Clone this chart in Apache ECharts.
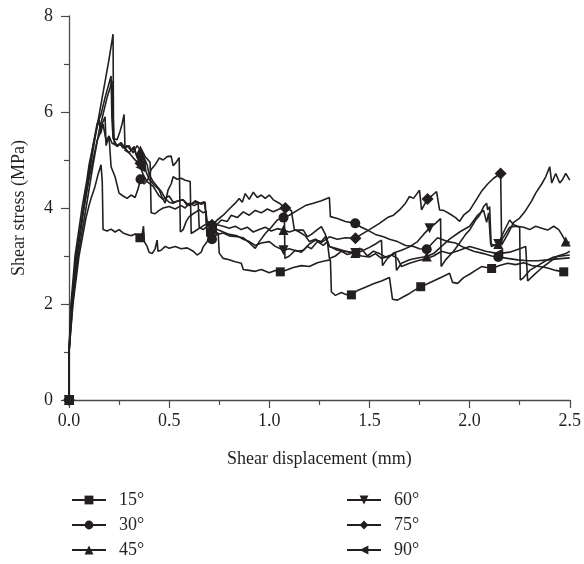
<!DOCTYPE html>
<html>
<head>
<meta charset="utf-8">
<script src="https://cdn.jsdelivr.net/npm/echarts@6/dist/echarts.min.js"></script>
<style>html,body{margin:0;padding:0;background:#fff}#c{width:584px;height:564px}</style>
</head>
<body>
<div id="c"></div>
<script>
// Series names (legend)
const seriesNames = ['15°', '30°', '45°', '60°', '75°', '90°'];
// Axis ticks
const xTicks = [0, 0.5, 1.0, 1.5, 2.0, 2.5];
const yTicks = [0, 2, 4, 6, 8];

// Data: [shear displacement (mm), shear stress (MPa)]
const d15 = [[0,0],[0,1.0],[0.02,2.0],[0.05,3.0],[0.085,3.8],[0.1,4.05],[0.11,4.2],[0.13,4.45],[0.145,4.7],[0.16,4.9],[0.166,4.55],[0.17,3.55],[0.19,3.52],[0.21,3.56],[0.23,3.5],[0.25,3.55],[0.27,3.48],[0.29,3.45],[0.31,3.42],[0.33,3.46],[0.354,3.38],[0.365,3.45],[0.372,3.62],[0.376,3.3],[0.39,3.2],[0.4,3.08],[0.415,3.05],[0.43,3.15],[0.44,3.33],[0.444,3.1],[0.46,3.12],[0.48,3.2],[0.5,3.16],[0.53,3.2],[0.56,3.15],[0.59,3.17],[0.62,3.1],[0.64,3.02],[0.66,3.08],[0.67,3.19],[0.69,3.3],[0.71,3.5],[0.72,3.54],[0.745,3.47],[0.75,3.06],[0.77,2.95],[0.8,2.92],[0.83,2.88],[0.86,2.85],[0.87,2.72],[0.9,2.7],[0.93,2.68],[0.96,2.72],[1.0,2.65],[1.03,2.7],[1.055,2.67],[1.08,2.7],[1.12,2.76],[1.16,2.8],[1.2,2.78],[1.24,2.86],[1.28,2.9],[1.305,2.92],[1.31,2.25],[1.33,2.18],[1.36,2.24],[1.38,2.2],[1.41,2.19],[1.44,2.28],[1.48,2.35],[1.52,2.42],[1.56,2.48],[1.6,2.55],[1.615,2.1],[1.64,2.08],[1.67,2.15],[1.7,2.22],[1.73,2.3],[1.756,2.36],[1.79,2.42],[1.83,2.5],[1.87,2.58],[1.9,2.64],[1.915,2.45],[1.94,2.43],[1.97,2.55],[2.0,2.62],[2.03,2.7],[2.06,2.78],[2.11,2.74],[2.15,2.8],[2.19,2.85],[2.23,2.82],[2.27,2.86],[2.31,2.8],[2.35,2.78],[2.39,2.75],[2.43,2.7],[2.47,2.67],[2.49,2.68]];
const d30 = [[0,0],[0,1.02],[0.012,2.0],[0.035,3.0],[0.07,3.9],[0.1,4.6],[0.12,5.0],[0.14,5.4],[0.155,5.55],[0.165,5.75],[0.18,5.9],[0.185,5.3],[0.2,5.49],[0.21,4.86],[0.23,4.65],[0.25,4.31],[0.27,4.25],[0.29,4.2],[0.31,4.27],[0.33,4.22],[0.345,4.4],[0.357,4.6],[0.375,4.5],[0.395,4.6],[0.41,4.8],[0.43,4.9],[0.45,5.04],[0.47,5.0],[0.49,5.07],[0.51,5.08],[0.52,4.88],[0.535,4.95],[0.55,5.05],[0.556,3.5],[0.57,3.55],[0.585,3.72],[0.6,3.82],[0.62,3.88],[0.65,3.96],[0.67,3.9],[0.685,3.93],[0.688,3.42],[0.714,3.35],[0.74,3.45],[0.77,3.48],[0.8,3.42],[0.84,3.4],[0.87,3.38],[0.9,3.28],[0.93,3.16],[0.95,3.3],[0.98,3.47],[1.01,3.6],[1.04,3.75],[1.071,3.8],[1.1,3.85],[1.14,3.95],[1.18,4.05],[1.22,4.1],[1.26,4.15],[1.3,4.22],[1.305,3.82],[1.34,3.78],[1.38,3.72],[1.429,3.68],[1.46,3.6],[1.49,3.54],[1.53,3.45],[1.57,3.4],[1.6,3.35],[1.64,3.3],[1.68,3.22],[1.72,3.2],[1.75,3.15],[1.786,3.14],[1.81,3.25],[1.84,3.38],[1.86,3.35],[1.89,3.3],[1.93,3.27],[1.97,3.18],[2.02,3.1],[2.07,3.05],[2.11,3.0],[2.143,2.98],[2.19,2.95],[2.24,2.92],[2.29,2.9],[2.34,2.9],[2.39,2.92],[2.44,2.94],[2.5,2.96]];
const d45 = [[0,0],[0,1.0],[0.01,2.0],[0.03,3.0],[0.065,4.0],[0.09,4.6],[0.1,4.9],[0.115,5.2],[0.13,5.5],[0.15,5.85],[0.158,5.55],[0.17,5.75],[0.185,5.4],[0.2,5.5],[0.215,5.35],[0.24,5.3],[0.26,5.36],[0.28,5.25],[0.3,5.3],[0.32,5.15],[0.34,5.3],[0.357,5.2],[0.37,5.1],[0.385,5.05],[0.405,4.95],[0.41,3.9],[0.43,3.88],[0.45,3.95],[0.47,4.0],[0.5,4.03],[0.53,3.98],[0.56,4.05],[0.58,4.0],[0.6,4.1],[0.625,4.05],[0.645,4.1],[0.65,3.6],[0.67,3.55],[0.69,3.62],[0.714,3.6],[0.74,3.65],[0.77,3.62],[0.8,3.58],[0.83,3.62],[0.86,3.55],[0.89,3.6],[0.92,3.5],[0.95,3.55],[0.98,3.6],[1.01,3.52],[1.04,3.57],[1.071,3.54],[1.1,3.5],[1.13,3.54],[1.17,3.54],[1.19,3.4],[1.21,3.45],[1.24,3.55],[1.26,3.61],[1.28,3.45],[1.3,3.2],[1.34,3.15],[1.38,3.1],[1.429,3.06],[1.46,3.0],[1.5,2.98],[1.53,3.05],[1.56,2.95],[1.6,3.0],[1.63,3.06],[1.635,2.7],[1.66,2.85],[1.7,2.92],[1.74,2.96],[1.786,2.99],[1.82,3.05],[1.86,3.2],[1.9,3.35],[1.95,3.5],[2.0,3.62],[2.04,3.85],[2.07,3.95],[2.085,3.7],[2.095,3.9],[2.105,3.25],[2.13,3.22],[2.143,3.25],[2.17,3.5],[2.2,3.75],[2.22,3.65],[2.24,3.62],[2.27,3.6],[2.3,3.55],[2.33,3.62],[2.36,3.58],[2.39,3.54],[2.42,3.62],[2.445,3.55],[2.46,3.45],[2.48,3.3],[2.5,3.28]];
const d60 = [[0,0],[0,0.98],[0.018,2.0],[0.045,3.0],[0.085,4.0],[0.12,4.9],[0.15,5.6],[0.17,5.95],[0.19,6.3],[0.205,6.5],[0.215,6.65],[0.218,5.8],[0.222,5.45],[0.24,5.42],[0.255,5.6],[0.265,5.75],[0.275,5.95],[0.28,5.2],[0.3,5.15],[0.32,5.25],[0.34,5.08],[0.357,5.0],[0.37,5.1],[0.385,4.75],[0.4,4.6],[0.42,4.5],[0.45,4.38],[0.465,4.22],[0.48,4.1],[0.495,4.38],[0.51,4.5],[0.52,4.65],[0.54,4.6],[0.56,4.62],[0.58,4.58],[0.605,4.55],[0.61,3.47],[0.63,3.52],[0.66,3.6],[0.69,3.68],[0.714,3.62],[0.74,3.55],[0.77,3.5],[0.8,3.45],[0.84,3.42],[0.87,3.35],[0.9,3.3],[0.93,3.22],[0.96,3.27],[1.0,3.3],[1.03,3.2],[1.071,3.12],[1.1,3.15],[1.14,3.1],[1.17,3.12],[1.2,3.25],[1.23,3.33],[1.26,3.3],[1.28,3.4],[1.3,3.2],[1.34,3.12],[1.38,3.1],[1.429,3.06],[1.46,3.1],[1.5,3.18],[1.53,3.25],[1.56,3.33],[1.565,2.8],[1.59,2.95],[1.62,3.06],[1.66,3.12],[1.7,3.19],[1.74,3.3],[1.77,3.45],[1.8,3.58],[1.83,3.68],[1.855,3.78],[1.858,2.78],[1.88,2.92],[1.92,3.1],[1.95,3.27],[1.98,3.45],[2.0,3.54],[2.03,3.75],[2.05,3.85],[2.07,4.03],[2.085,4.1],[2.09,3.96],[2.1,4.03],[2.108,3.2],[2.143,3.25],[2.17,3.4],[2.2,3.6],[2.23,3.62],[2.25,3.6],[2.253,2.5],[2.27,2.55],[2.3,2.7],[2.34,2.8],[2.38,2.9],[2.42,2.98],[2.46,3.0],[2.5,3.02]];
const d75 = [[0,0],[0,1.0],[0.015,2.0],[0.04,3.0],[0.075,4.0],[0.11,4.95],[0.14,5.7],[0.17,6.4],[0.2,7.1],[0.22,7.62],[0.222,5.85],[0.226,5.35],[0.24,5.28],[0.255,5.33],[0.27,5.25],[0.29,5.3],[0.31,5.2],[0.325,5.28],[0.34,5.05],[0.357,4.93],[0.375,5.05],[0.39,4.9],[0.4,4.7],[0.42,4.55],[0.44,4.45],[0.46,4.35],[0.48,4.2],[0.5,4.12],[0.52,4.1],[0.545,4.15],[0.57,4.17],[0.59,4.05],[0.61,4.08],[0.63,4.15],[0.655,4.1],[0.675,4.13],[0.69,3.72],[0.714,3.65],[0.74,3.75],[0.77,3.85],[0.8,3.98],[0.83,4.1],[0.85,4.2],[0.865,4.12],[0.88,4.3],[0.9,4.18],[0.92,4.33],[0.94,4.22],[0.96,4.27],[0.98,4.2],[1.0,4.27],[1.02,4.17],[1.05,4.1],[1.08,4.0],[1.11,3.95],[1.125,3.55],[1.15,3.5],[1.18,3.42],[1.2,3.3],[1.23,3.35],[1.26,3.28],[1.3,3.4],[1.34,3.35],[1.38,3.38],[1.43,3.37],[1.46,3.45],[1.5,3.55],[1.55,3.68],[1.59,3.8],[1.62,3.85],[1.65,3.96],[1.68,4.1],[1.7,4.24],[1.72,4.2],[1.75,4.37],[1.76,3.96],[1.79,4.19],[1.81,4.25],[1.835,4.34],[1.85,3.96],[1.87,3.95],[1.9,3.88],[1.93,3.8],[1.95,3.72],[1.97,3.85],[2.0,3.95],[2.03,4.15],[2.06,4.35],[2.09,4.5],[2.12,4.62],[2.155,4.72],[2.16,3.23],[2.19,3.45],[2.22,3.7],[2.25,3.79],[2.28,3.95],[2.31,4.15],[2.33,4.31],[2.36,4.5],[2.38,4.65],[2.4,4.86],[2.41,4.52],[2.43,4.72],[2.45,4.52],[2.465,4.6],[2.48,4.72],[2.5,4.58]];
const d90 = [[0,0],[0,1.0],[0.014,2.0],[0.038,3.0],[0.072,4.0],[0.1,4.8],[0.12,5.3],[0.14,5.75],[0.16,5.95],[0.18,6.3],[0.2,6.6],[0.21,6.75],[0.214,5.9],[0.22,5.45],[0.24,5.3],[0.26,5.35],[0.29,5.2],[0.31,5.1],[0.33,5.0],[0.345,4.95],[0.357,4.85],[0.37,4.7],[0.39,4.55],[0.42,4.45],[0.45,4.25],[0.47,4.18],[0.5,4.25],[0.52,4.12],[0.55,4.15],[0.57,4.17],[0.6,4.05],[0.62,4.1],[0.64,4.12],[0.66,4.08],[0.68,4.12],[0.685,3.7],[0.7,3.62],[0.714,3.55],[0.73,3.62],[0.76,3.75],[0.79,3.72],[0.81,3.85],[0.84,3.8],[0.87,3.92],[0.9,3.85],[0.93,3.95],[0.96,3.9],[0.99,3.98],[1.02,3.92],[1.05,3.98],[1.075,4.0],[1.078,2.95],[1.1,3.0],[1.13,3.12],[1.16,3.08],[1.19,3.2],[1.21,3.15],[1.24,3.3],[1.27,3.22],[1.29,3.3],[1.3,2.95],[1.33,3.0],[1.36,3.1],[1.39,3.03],[1.429,3.08],[1.46,3.15],[1.49,3.0],[1.52,3.1],[1.55,3.05],[1.58,2.98],[1.61,3.02],[1.64,2.95],[1.66,2.78],[1.7,2.85],[1.74,2.9],[1.786,2.95],[1.82,3.0],[1.86,3.1],[1.9,3.05],[1.95,3.12],[2.0,3.2],[2.04,3.15],[2.08,3.1],[2.143,3.05],[2.2,3.08],[2.25,3.15],[2.28,3.2],[2.29,2.48],[2.32,2.6],[2.36,2.75],[2.4,2.88],[2.44,3.0],[2.48,3.05],[2.5,3.1]];

// x positions where each curve carries a marker
const mk15 = [0, 0.354, 0.71, 1.055, 1.41, 1.756, 2.11, 2.47];
const mk30 = [0, 0.357, 0.714, 1.071, 1.429, 1.786, 2.143];
const mk45 = [0, 0.357, 0.714, 1.071, 1.429, 1.786, 2.143, 2.48];
const mk60 = [0, 0.357, 0.714, 1.071, 1.429, 1.8, 2.143];
const mk75 = [0, 0.357, 0.714, 1.08, 1.43, 1.79, 2.155];
const mk90 = [0, 0.357, 0.714, 1.429, 2.143];

const allData = [d15, d30, d45, d60, d75, d90];
const allMarks = [mk15, mk30, mk45, mk60, mk75, mk90];
const symbols = ['rect', 'circle', 'triangle', 'triangle', 'diamond', 'triangle'];
const rotates = [0, 0, 0, 180, 0, 90];
const sizes = [9, 10, 10, 10, 12, 10];

const INK = '#231f20';
const AX = '#4a4a4a';
const FONT = '"Liberation Serif", "DejaVu Serif", serif';

function build(i) {
  const marks = allMarks[i].slice();
  return allData[i].map(function (p) {
    const k = marks.indexOf(p[0]);
    if (k >= 0) {
      marks[k] = null;
      return { value: p, symbol: symbols[i], symbolSize: sizes[i], symbolRotate: rotates[i] };
    }
    return { value: p, symbol: 'none' };
  });
}

const series = seriesNames.map(function (n, i) {
  return {
    name: n,
    type: 'line',
    data: build(i),
    symbol: symbols[i],
    symbolSize: sizes[i],
    symbolRotate: rotates[i],
    showSymbol: true,
    showAllSymbol: true,
    lineStyle: { color: INK, width: 1.6 },
    itemStyle: { color: INK },
    emphasis: { disabled: true },
    z: 2 + i
  };
});

function legendAt(names, left) {
  return {
    data: names, orient: 'vertical', left: left, top: 486, height: 90,
    itemWidth: 34, itemHeight: 11, itemGap: 7,
    textStyle: { fontFamily: FONT, fontSize: 18, lineHeight: 18, color: INK, padding: [0, 0, 0, 8] },
    selectedMode: false
  };
}

const chart = echarts.init(document.getElementById('c'));
chart.setOption({
  animation: false,
  backgroundColor: '#fff',
  textStyle: { fontFamily: FONT },
  grid: { left: 69, right: 13, top: 16, bottom: 164, containLabel: false },
  legend: [legendAt(seriesNames.slice(0, 3), 66), legendAt(seriesNames.slice(3), 341)],
  xAxis: {
    type: 'value', min: xTicks[0], max: xTicks[xTicks.length - 1], interval: 0.5,
    name: 'Shear displacement (mm)', nameLocation: 'middle', nameGap: 50,
    nameTextStyle: { fontFamily: FONT, fontSize: 18, color: INK },
    axisLine: { show: true, lineStyle: { color: AX, width: 1.3 } },
    axisTick: { show: true, inside: false, length: 8, lineStyle: { color: AX, width: 1.2 } },
    minorTick: { show: true, splitNumber: 2, length: 5, lineStyle: { color: AX, width: 1.2 } },
    axisLabel: { fontFamily: FONT, fontSize: 18, color: INK, margin: 12, formatter: function (v) { return v.toFixed(1); } },
    splitLine: { show: false }
  },
  yAxis: {
    type: 'value', min: yTicks[0], max: yTicks[yTicks.length - 1], interval: 2,
    name: 'Shear stress (MPa)', nameLocation: 'middle', nameGap: 41,
    nameTextStyle: { fontFamily: FONT, fontSize: 18, color: INK },
    axisLine: { show: true, lineStyle: { color: AX, width: 1.3 } },
    axisTick: { show: true, inside: false, length: 8, lineStyle: { color: AX, width: 1.2 } },
    minorTick: { show: true, splitNumber: 2, length: 5, lineStyle: { color: AX, width: 1.2 } },
    axisLabel: { fontFamily: FONT, fontSize: 18, color: INK, margin: 16 },
    splitLine: { show: false }
  },
  series: series
});
</script>
</body>
</html>
